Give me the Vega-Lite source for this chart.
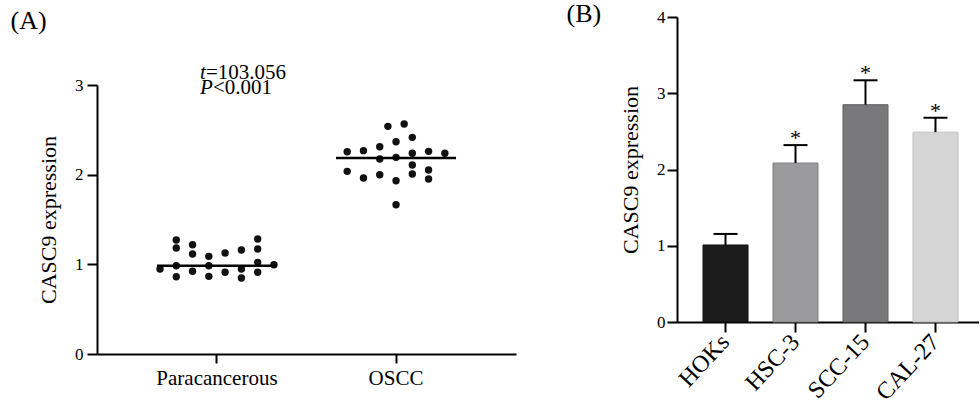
{
  "$schema": "https://vega.github.io/schema/vega-lite/v6.json",
  "padding": {"left": 10, "top": 1, "right": 0, "bottom": 0},
  "background": "white",
  "spacing": 50,
  "config": {
    "font": "Liberation Serif",
    "view": {"stroke": null},
    "axis": {"domainColor": "#000", "domainWidth": 2, "tickColor": "#000", "tickWidth": 2, "tickSize": 10, "labelColor": "#000", "labelFont": "Liberation Serif", "titleFont": "Liberation Serif", "titleColor": "#000", "grid": false, "titleFontWeight": "normal"},
    "title": {"font": "Liberation Serif", "fontWeight": "normal", "fontSize": 26, "color": "#000", "anchor": "start", "frame": "bounds"}
  },
  "datasets": {
    "swarm": [
      {"group": "Paracancerous", "col": -7, "value": 0.948},
      {"group": "Paracancerous", "col": -5, "value": 1.271},
      {"group": "Paracancerous", "col": -5, "value": 1.182},
      {"group": "Paracancerous", "col": -5, "value": 0.985},
      {"group": "Paracancerous", "col": -5, "value": 0.862},
      {"group": "Paracancerous", "col": -3, "value": 1.219},
      {"group": "Paracancerous", "col": -3, "value": 1.115},
      {"group": "Paracancerous", "col": -3, "value": 0.922},
      {"group": "Paracancerous", "col": -1, "value": 1.089},
      {"group": "Paracancerous", "col": -1, "value": 0.985},
      {"group": "Paracancerous", "col": -1, "value": 0.866},
      {"group": "Paracancerous", "col": 1, "value": 1.126},
      {"group": "Paracancerous", "col": 1, "value": 0.911},
      {"group": "Paracancerous", "col": 3, "value": 1.16},
      {"group": "Paracancerous", "col": 3, "value": 0.948},
      {"group": "Paracancerous", "col": 3, "value": 0.848},
      {"group": "Paracancerous", "col": 5, "value": 1.282},
      {"group": "Paracancerous", "col": 5, "value": 1.171},
      {"group": "Paracancerous", "col": 5, "value": 1.022},
      {"group": "Paracancerous", "col": 5, "value": 0.911},
      {"group": "Paracancerous", "col": 7, "value": 0.996},
      {"group": "OSCC", "col": -6, "value": 2.256},
      {"group": "OSCC", "col": -6, "value": 2.037},
      {"group": "OSCC", "col": -4, "value": 2.268},
      {"group": "OSCC", "col": -4, "value": 1.963},
      {"group": "OSCC", "col": -2, "value": 2.312},
      {"group": "OSCC", "col": -2, "value": 2.175},
      {"group": "OSCC", "col": -2, "value": 1.999},
      {"group": "OSCC", "col": -1, "value": 2.539},
      {"group": "OSCC", "col": 0, "value": 2.368},
      {"group": "OSCC", "col": 0, "value": 2.193},
      {"group": "OSCC", "col": 0, "value": 1.933},
      {"group": "OSCC", "col": 0, "value": 1.665},
      {"group": "OSCC", "col": 1, "value": 2.565},
      {"group": "OSCC", "col": 2, "value": 2.416},
      {"group": "OSCC", "col": 2, "value": 2.238},
      {"group": "OSCC", "col": 2, "value": 2.108},
      {"group": "OSCC", "col": 2, "value": 2.007},
      {"group": "OSCC", "col": 4, "value": 2.26},
      {"group": "OSCC", "col": 4, "value": 2.052},
      {"group": "OSCC", "col": 4, "value": 1.952},
      {"group": "OSCC", "col": 6, "value": 2.238}
    ],
    "medians": [
      {"group": "Paracancerous", "median": 0.985},
      {"group": "OSCC", "median": 2.186}
    ],
    "bars": [
      {"line": "HOKs", "mean": 1.01, "upper": 1.155, "sig": ""},
      {"line": "HSC-3", "mean": 2.085, "upper": 2.32, "sig": "*"},
      {"line": "SCC-15", "mean": 2.85, "upper": 3.17, "sig": "*"},
      {"line": "CAL-27", "mean": 2.49, "upper": 2.68, "sig": "*"}
    ]
  },
  "hconcat": [
    {
      "width": 419,
      "height": 337,
      "title": {"text": "(A)", "offset": -17, "dx": -27},
      "encoding": {
        "x": {"field": "group", "type": "nominal", "sort": ["Paracancerous", "OSCC"],
              "scale": {"type": "band", "domain": ["Paracancerous", "OSCC"], "paddingInner": 0, "paddingOuter": 0.17},
              "axis": {"title": null, "labelAngle": 0, "labelFontSize": 21, "tickSize": 9, "labelPadding": 4, "domainColor": "#000", "tickColor": "#000", "domainWidth": 2, "tickWidth": 2, "labelColor": "#000"}}
      },
      "layer": [
        {
          "data": {"name": "swarm"},
          "mark": {"type": "circle", "size": 55, "color": "#111", "opacity": 1},
          "encoding": {
            "xOffset": {"field": "col", "type": "quantitative", "scale": {"domain": [-11, 11]}},
            "y": {"field": "value", "type": "quantitative", "scale": {"domain": [0, 3], "range": [337, 68]},
                  "axis": {"values": [0, 1, 2, 3], "format": "d", "title": "CASC9 expression", "titleFontSize": 22, "labelFontSize": 17, "labelPadding": 4, "titlePadding": 14, "domainColor": "#000", "tickColor": "#000", "domainWidth": 2, "tickWidth": 2, "labelColor": "#000", "titleColor": "#000"}}
          }
        },
        {
          "data": {"name": "medians"},
          "mark": {"type": "tick", "size": 120, "thickness": 2.5, "color": "#000", "opacity": 1},
          "encoding": {"y": {"field": "median", "type": "quantitative"}}
        },
        {
          "data": {"values": [{"group": "Paracancerous", "v": 3.067, "s": "t"}, {"group": "Paracancerous", "v": 2.9, "s": "P"}]},
          "mark": {"type": "text", "align": "left", "baseline": "alphabetic", "fontSize": 21, "fontStyle": "italic", "dx": -17, "color": "#000"},
          "encoding": {"y": {"field": "v", "type": "quantitative"}, "text": {"field": "s"}}
        },
        {
          "data": {"values": [{"group": "Paracancerous", "v": 3.067, "s": "=103.056"}]},
          "mark": {"type": "text", "align": "left", "baseline": "alphabetic", "fontSize": 21, "dx": -11, "color": "#000"},
          "encoding": {"y": {"field": "v", "type": "quantitative"}, "text": {"field": "s"}}
        },
        {
          "data": {"values": [{"group": "Paracancerous", "v": 2.9, "s": "<0.001"}]},
          "mark": {"type": "text", "align": "left", "baseline": "alphabetic", "fontSize": 21, "dx": -4, "color": "#000"},
          "encoding": {"y": {"field": "v", "type": "quantitative"}, "text": {"field": "s"}}
        }
      ]
    },
    {
      "width": 302,
      "height": 305,
      "title": {"text": "(B)", "offset": -19, "dx": -53},
      "data": {"name": "bars"},
      "encoding": {
        "x": {"field": "line", "type": "nominal", "sort": ["HOKs", "HSC-3", "SCC-15", "CAL-27"],
              "scale": {"type": "band", "paddingInner": 0.357, "paddingOuter": 0.336, "align": 0.553},
              "axis": {"title": null, "labelAngle": -47, "labelAlign": "right", "labelBaseline": "middle", "labelFontSize": 24, "tickSize": 10, "labelPadding": 6, "domainColor": "#000", "tickColor": "#000", "domainWidth": 2, "tickWidth": 2, "labelColor": "#000"}}
      },
      "layer": [
        {
          "mark": {"type": "bar", "strokeWidth": 1, "width": 45},
          "encoding": {
            "y": {"field": "mean", "type": "quantitative", "scale": {"domain": [0, 4]},
                  "axis": {"values": [0, 1, 2, 3, 4], "format": "d", "title": "CASC9 expression", "titleFontSize": 22, "labelFontSize": 17, "labelPadding": 2, "titlePadding": 14, "domainColor": "#000", "tickColor": "#000", "domainWidth": 2, "tickWidth": 2, "labelColor": "#000", "titleColor": "#000"}},
            "fill": {"field": "line", "type": "nominal", "scale": {"domain": ["HOKs", "HSC-3", "SCC-15", "CAL-27"], "range": ["#1c1c1c", "#9b9b9d", "#79797c", "#d5d5d5"]}, "legend": null},
            "stroke": {"field": "line", "type": "nominal", "scale": {"domain": ["HOKs", "HSC-3", "SCC-15", "CAL-27"], "range": ["#111111", "#808082", "#606063", "#c0c0c0"]}, "legend": null}
          }
        },
        {
          "mark": {"type": "rule", "strokeWidth": 2, "color": "#000"},
          "encoding": {"y": {"field": "mean", "type": "quantitative"}, "y2": {"field": "upper"}}
        },
        {
          "mark": {"type": "tick", "size": 24, "thickness": 2, "color": "#000", "opacity": 1},
          "encoding": {"y": {"field": "upper", "type": "quantitative"}}
        },
        {
          "mark": {"type": "text", "fontSize": 22, "baseline": "alphabetic", "dy": 0, "color": "#000"},
          "encoding": {"y": {"field": "upper", "type": "quantitative"}, "text": {"field": "sig"}}
        }
      ]
    }
  ]
}
